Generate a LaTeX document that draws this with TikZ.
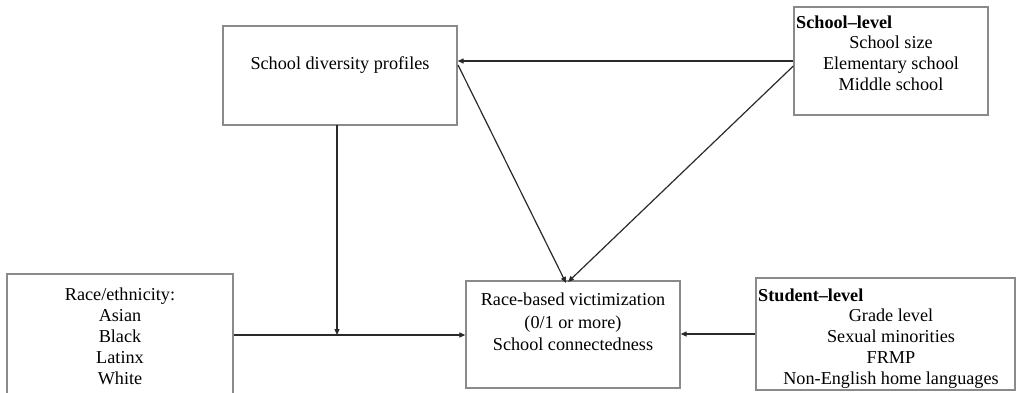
\documentclass[tikz,border=0pt]{standalone}
\usepackage{fontspec}
\setmainfont{Liberation Serif}
\usetikzlibrary{arrows.meta}
\definecolor{boxgray}{HTML}{8A8A8A}
\definecolor{linegray}{HTML}{2A2A2A}
\tikzset{
  box/.style={draw=boxgray, line width=1.3pt, rectangle, inner sep=0pt},
  txt/.style={font=\fontsize{18.2pt}{21pt}\selectfont, inner sep=0pt, align=center, text=black},
  conn/.style={draw=linegray, line width=1.2pt, -{Triangle[length=6pt,width=5pt]}},
  plain/.style={draw=linegray, line width=1.2pt}
}
\begin{document}
\begin{tikzpicture}[x=1pt,y=-1pt]
\useasboundingbox (0,0) rectangle (1016,393);
\begin{scope}
\clip (0,0) rectangle (1016,393);
% boxes
\node[box, minimum width=234pt, minimum height=99pt] (sdp) at (340,75.5) {};
\node[box, minimum width=194pt, minimum height=108pt] (sch) at (891,61) {};
\node[box, minimum width=226pt, minimum height=140pt] (race) at (120,344) {};
\node[box, minimum width=214pt, minimum height=107pt] (vic) at (573,334.5) {};
\node[box, minimum width=259pt, minimum height=112pt] (stu) at (885.5,334) {};
\end{scope}
% texts
\node[txt] (sdpt) at (340,65) {School diversity profiles};
\node[txt, anchor=west] (scht) at (796,22) {\textbf{School–level}};
\node[txt, anchor=north] (schl) at (891,36) {School size\\Elementary school\\Middle school};
\node[txt, anchor=north] (racet) at (120,288) {Race/ethnicity:\\Asian\\Black\\Latinx\\White};
\node[txt, anchor=north, font=\fontsize{18.2pt}{22.5pt}\selectfont] (vict) at (573,293) {Race-based victimization\\(0/1 or more)\\School connectedness};
\node[txt, anchor=west] (stut) at (758,295) {\textbf{Student–level}};
\node[txt, anchor=north] (stul) at (891,309) {Grade level\\Sexual minorities\\FRMP\\Non-English home languages};
% junction
\coordinate (jn) at (337,335);
% connectors
\draw[conn] (sch.west |- 0,61) -- (sdp.east |- 0,61);
\draw[conn] (458,65) -- (566,283);
\draw[conn] (sch.west |- 0,66) -- (568,282);
\draw[conn] (337,125) -- (jn);
\draw[plain] (race.east |- 0,335) -- (jn);
\draw[conn] (jn) -- (vic.west |- 0,335);
\draw[conn] (stu.west |- 0,334) -- (vic.east |- 0,334);
\end{tikzpicture}
\end{document}
